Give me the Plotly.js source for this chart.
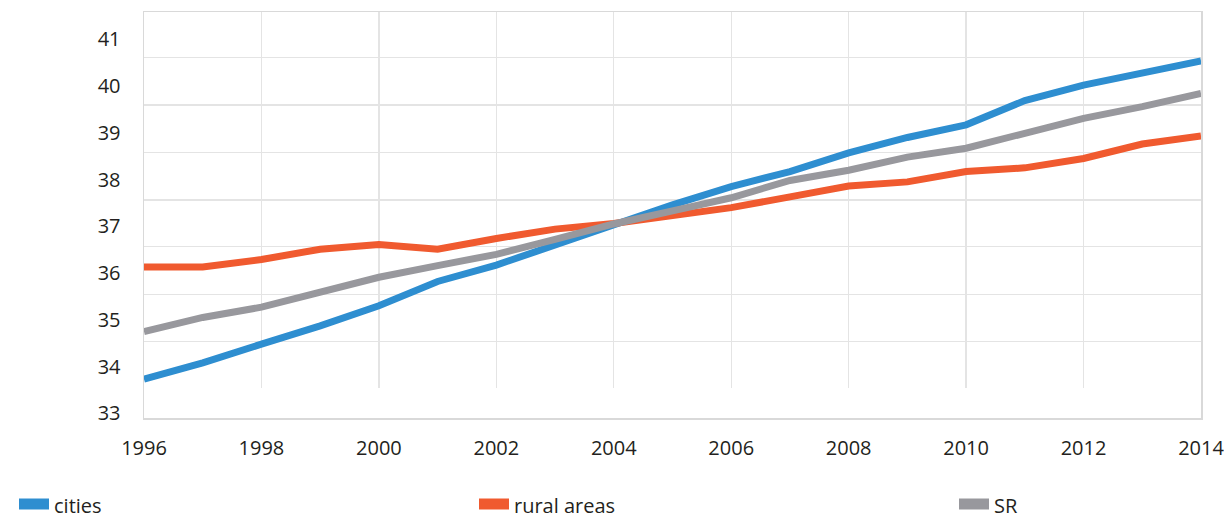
<!DOCTYPE html>
<html>
<head>
<meta charset="utf-8">
<script src="https://cdn.plot.ly/plotly-3.0.1.min.js"></script>
<style>html,body{margin:0;padding:0;background:#ffffff;}</style>
</head>
<body>
<div id="chart" style="width:1224px;height:517px;"></div>
<script>
// ---- data ----
const years = [1996,1997,1998,1999,2000,2001,2002,2003,2004,2005,2006,2007,2008,2009,2010,2011,2012,2013,2014];
const cities = [33.73,34.08,34.48,34.87,35.30,35.82,36.17,36.60,37.03,37.46,37.85,38.17,38.57,38.90,39.17,39.69,40.02,40.29,40.54];
const ruralAreas = [36.13,36.13,36.29,36.51,36.61,36.51,36.74,36.94,37.06,37.22,37.40,37.63,37.86,37.95,38.17,38.25,38.45,38.76,38.93];
const sr = [34.75,35.05,35.27,35.58,35.91,36.16,36.40,36.72,37.05,37.33,37.61,37.98,38.20,38.48,38.67,38.99,39.31,39.56,39.84];
const seriesNames = ['cities','rural areas','SR'];
const xTickVals = [1996,1998,2000,2002,2004,2006,2008,2010,2012,2014];
const yTickVals = [33,34,35,36,37,38,39,40,41];
const gridXVals = [1998,2000,2002,2004,2006,2008,2010,2012];
const gridYVals = [34.532,35.545,36.564,37.563,38.574,39.595,40.606];

// ---- styling ----
const colors = ['#2e8ed0','#f05a2f','#98989d'];
const seriesData = [cities, ruralAreas, sr];
const legendIds = ['legend','legend2','legend3'];
const legendX = [14, 474, 954];

const traces = [];
// carrier trace so the labelled frame axes (x / y) are drawn
traces.push({
  type:'scatter', mode:'lines', x:[null], y:[null], xaxis:'x', yaxis:'y',
  showlegend:false, hoverinfo:'skip', line:{width:0}
});
seriesData.forEach((vals, i) => {
  traces.push({
    type:'scatter', mode:'lines', x: years, y: vals, name: seriesNames[i],
    xaxis:'x2', yaxis:'y2', showlegend:false,
    line:{color: colors[i], width:7, shape:'linear'},
    hoverinfo:'x+y+name'
  });
});
seriesData.forEach((vals, i) => {
  traces.push({
    type:'scatter', mode:'lines', x:[null], y:[null], name: seriesNames[i],
    xaxis:'x2', yaxis:'y2', showlegend:true, legend: legendIds[i],
    fill:'toself', fillcolor: colors[i],
    line:{color: colors[i], width:10}
  });
});

const W = 1224, H = 517;
const mkLegend = (px) => ({
  xref:'container', yref:'container',
  x: px / W, xanchor:'left',
  y: 1 - 505.5 / H, yanchor:'middle',
  orientation:'h', bgcolor:'rgba(0,0,0,0)', borderwidth:0,
  itemwidth:30, itemclick:false, itemdoubleclick:false,
  font:{family:'"Open Sans", "Noto Sans", sans-serif', size:20, color:'#231f20'}
});

const layout = {
  width: W, height: H,
  margin:{l:144, r:23, t:12, b:99, pad:0},
  paper_bgcolor:'#ffffff', plot_bgcolor:'rgba(0,0,0,0)',
  font:{family:'"Open Sans", "Noto Sans", sans-serif', size:20, color:'#231f20'},
  xaxis:{
    range:[1996,2014], tickvals: xTickVals, ticktext: xTickVals.map(String),
    showgrid:false, zeroline:false, showline:true, mirror:true,
    linecolor:'#d9d9d9', linewidth:1.5, ticks:'', ticklabelstandoff:11,
    ticklabeloverflow:'allow', fixedrange:true
  },
  yaxis:{
    range:[32.8995, 41.584], tickvals: yTickVals, ticktext: yTickVals.map(String),
    showgrid:false, zeroline:false, showline:true, mirror:true,
    linecolor:'#d9d9d9', linewidth:1.5, ticks:'', ticklabelstandoff:18,
    ticklabeloverflow:'allow', fixedrange:true
  },
  xaxis2:{
    anchor:'y2', range:[1996,2014], tickvals: gridXVals,
    showgrid:true, gridcolor:'#e4e4e4', gridwidth:1.4,
    showticklabels:false, zeroline:false, showline:false, ticks:'', fixedrange:true
  },
  yaxis2:{
    anchor:'x2', domain:[0.07315,1], range:[33.5347, 41.584], tickvals: gridYVals,
    showgrid:true, gridcolor:'#e4e4e4', gridwidth:1.4,
    showticklabels:false, zeroline:false, showline:false, ticks:'', fixedrange:true
  },
  legend: mkLegend(legendX[0]),
  legend2: mkLegend(legendX[1]),
  legend3: mkLegend(legendX[2]),
  showlegend:true
};

Plotly.newPlot('chart', traces, layout, {displayModeBar:false, staticPlot:true});
</script>
</body>
</html>
